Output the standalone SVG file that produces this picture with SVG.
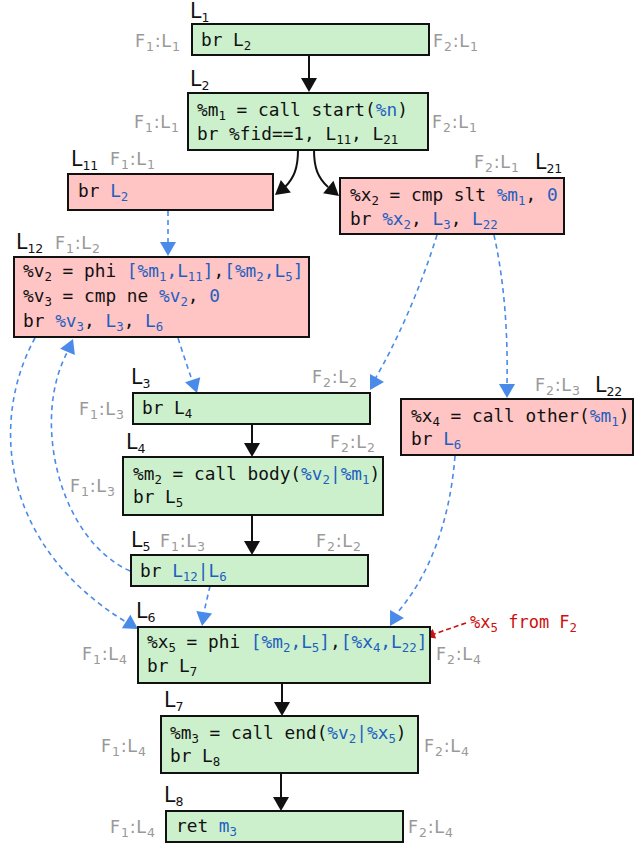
<svg xmlns="http://www.w3.org/2000/svg" xmlns:xlink="http://www.w3.org/1999/xlink" width="644" height="843" viewBox="0 0 644 843">
<style>
.g{fill:#ccf0cc;stroke:#111;stroke-width:2}
.r{fill:#ffc4c4;stroke:#111;stroke-width:2}
.c{font-family:"DejaVu Sans Mono","Liberation Mono",monospace;font-size:17.8px;fill:#111}
.b{fill:#1f5fc0}
.s{font-size:12.4px;baseline-shift:-4px}
.lb{font-family:"DejaVu Sans","Liberation Sans",sans-serif;font-size:20.5px;fill:#111}
.gr{font-family:"DejaVu Sans","Liberation Sans",sans-serif;font-size:17.5px;letter-spacing:0.8px;fill:#999}
.ls{font-size:12.5px;baseline-shift:-4px}
.gs{font-size:12.5px;baseline-shift:-4px}
.k{fill:none;stroke:#111;stroke-width:2}
.d{fill:none;stroke:#4a8ae8;stroke-width:1.6;stroke-dasharray:5 4}
.rd{fill:none;stroke:#cc1111;stroke-width:1.6;stroke-dasharray:5 3}
.red{font-family:"DejaVu Sans Mono","Liberation Mono",monospace;font-size:17px;fill:#cc1111}
</style>
<defs>
<path id="ak" d="M0,0 L-14,-8 L-14,8 Z" fill="#111"/>
<path id="ab" d="M0,0 L-14,-8 L-14,8 Z" fill="#4a8ae8"/>
<path id="ar" d="M0,0 L-10,-5 L-10,5 Z" fill="#cc1111"/>
</defs>

<g id="connectors">
<path class="k" d="M309,55 V80"/>
<use xlink:href="#ak" transform="translate(309,92) rotate(90)"/>
<path class="k" d="M298,150 C298,168 294,178 285,187"/>
<use xlink:href="#ak" transform="translate(275,195) rotate(141)"/>
<path class="k" d="M314,150 C314,168 318,178 328,187"/>
<use xlink:href="#ak" transform="translate(339,196) rotate(40)"/>
<path class="k" d="M252,424 V445"/>
<use xlink:href="#ak" transform="translate(252,457) rotate(90)"/>
<path class="k" d="M252,515 V543"/>
<use xlink:href="#ak" transform="translate(252,555) rotate(90)"/>
<path class="k" d="M282,683 V704"/>
<use xlink:href="#ak" transform="translate(282,716) rotate(90)"/>
<path class="k" d="M281,773 V799"/>
<use xlink:href="#ak" transform="translate(281,811) rotate(90)"/>

<path class="d" d="M168,211 V244"/>
<use xlink:href="#ab" transform="translate(168,256) rotate(90)"/>
<path class="d" d="M178,338 Q185,360 192,380"/>
<use xlink:href="#ab" transform="translate(197,393) rotate(72)"/>
<path class="d" d="M35,338 C-10,420 0,545 126,622"/>
<use xlink:href="#ab" transform="translate(138,629) rotate(32)"/>
<path class="d" d="M130,571 C60,540 30,420 68,351"/>
<use xlink:href="#ab" transform="translate(73,339) rotate(-67)"/>
<path class="d" d="M437,235 C420,290 395,345 375,379"/>
<use xlink:href="#ab" transform="translate(384,382) rotate(0)"/>
<path class="d" d="M494,235 C504,280 508,330 507,384"/>
<use xlink:href="#ab" transform="translate(507,398) rotate(90)"/>
<path class="d" d="M210,586 L204,612"/>
<use xlink:href="#ab" transform="translate(202,626) rotate(99)"/>
<path class="d" d="M455,456 C450,520 430,575 397,613"/>
<use xlink:href="#ab" transform="translate(390,626) rotate(120)"/>
<path class="rd" d="M466,623 L434,634"/>
<use xlink:href="#ar" transform="translate(425,637) rotate(161)"/>
</g>

<g id="L1">
<rect class="g" x="192" y="24" width="237" height="31"/>
<text class="lb" x="190" y="18">L<tspan class="ls">1</tspan></text>
<text class="gr" x="135" y="47">F<tspan class="gs">1</tspan><tspan>:L</tspan><tspan class="gs">1</tspan></text>
<text class="gr" x="433" y="47">F<tspan class="gs">2</tspan><tspan>:L</tspan><tspan class="gs">1</tspan></text>
<text class="c" x="201" y="46">br L<tspan class="s">2</tspan></text>
</g>

<g id="L2">
<rect class="g" x="188" y="93" width="240" height="57"/>
<text class="lb" x="190" y="86">L<tspan class="ls">2</tspan></text>
<text class="gr" x="134" y="128">F<tspan class="gs">1</tspan><tspan>:L</tspan><tspan class="gs">1</tspan></text>
<text class="gr" x="432" y="128">F<tspan class="gs">2</tspan><tspan>:L</tspan><tspan class="gs">1</tspan></text>
<text class="c" x="197" y="116">%m<tspan class="s">1</tspan><tspan> = call start(</tspan><tspan class="b">%n</tspan><tspan>)</tspan></text>
<text class="c" x="197" y="140">br %fid==1, L<tspan class="s">11</tspan><tspan>, L</tspan><tspan class="s">21</tspan></text>
</g>

<g id="L11">
<rect class="r" x="68" y="174" width="205" height="36"/>
<text class="lb" x="71" y="166">L<tspan class="ls">11</tspan></text>
<text class="gr" x="110" y="165">F<tspan class="gs">1</tspan><tspan>:L</tspan><tspan class="gs">1</tspan></text>
<text class="c" x="78" y="197">br <tspan class="b">L</tspan><tspan class="b s">2</tspan></text>
</g>

<g id="L21">
<rect class="r" x="340" y="178" width="224" height="56"/>
<text class="gr" x="474" y="168">F<tspan class="gs">2</tspan><tspan>:L</tspan><tspan class="gs">1</tspan></text>
<text class="lb" x="535" y="169">L<tspan class="ls">21</tspan></text>
<text class="c" x="350" y="201">%x<tspan class="s">2</tspan><tspan> = cmp slt </tspan><tspan class="b">%m</tspan><tspan class="b s">1</tspan><tspan>, </tspan><tspan class="b">0</tspan></text>
<text class="c" x="350" y="225">br <tspan class="b">%x</tspan><tspan class="b s">2</tspan><tspan>, </tspan><tspan class="b">L</tspan><tspan class="b s">3</tspan><tspan>, </tspan><tspan class="b">L</tspan><tspan class="b s">22</tspan></text>
</g>

<g id="L12">
<rect class="r" x="14" y="257" width="295" height="80"/>
<text class="lb" x="16" y="249">L<tspan class="ls">12</tspan></text>
<text class="gr" x="55" y="249">F<tspan class="gs">1</tspan><tspan>:L</tspan><tspan class="gs">2</tspan></text>
<text class="c" x="23" y="277">%v<tspan class="s">2</tspan><tspan> = phi </tspan><tspan class="b">[%m</tspan><tspan class="b s">1</tspan><tspan class="b">,L</tspan><tspan class="b s">11</tspan><tspan class="b">]</tspan><tspan>,</tspan><tspan class="b">[%m</tspan><tspan class="b s">2</tspan><tspan class="b">,L</tspan><tspan class="b s">5</tspan><tspan class="b">]</tspan></text>
<text class="c" x="23" y="302">%v<tspan class="s">3</tspan><tspan> = cmp ne </tspan><tspan class="b">%v</tspan><tspan class="b s">2</tspan><tspan>, </tspan><tspan class="b">0</tspan></text>
<text class="c" x="23" y="327">br <tspan class="b">%v</tspan><tspan class="b s">3</tspan><tspan>, </tspan><tspan class="b">L</tspan><tspan class="b s">3</tspan><tspan>, </tspan><tspan class="b">L</tspan><tspan class="b s">6</tspan></text>
</g>

<g id="L3">
<rect class="g" x="133" y="393" width="237" height="31"/>
<text class="lb" x="131" y="384">L<tspan class="ls">3</tspan></text>
<text class="gr" x="312" y="383">F<tspan class="gs">2</tspan><tspan>:L</tspan><tspan class="gs">2</tspan></text>
<text class="gr" x="79" y="415">F<tspan class="gs">1</tspan><tspan>:L</tspan><tspan class="gs">3</tspan></text>
<text class="c" x="142" y="414">br L<tspan class="s">4</tspan></text>
</g>

<g id="L4">
<rect class="g" x="123" y="457" width="260" height="58"/>
<text class="lb" x="126" y="449">L<tspan class="ls">4</tspan></text>
<text class="gr" x="330" y="448">F<tspan class="gs">2</tspan><tspan>:L</tspan><tspan class="gs">2</tspan></text>
<text class="gr" x="70" y="492">F<tspan class="gs">1</tspan><tspan>:L</tspan><tspan class="gs">3</tspan></text>
<text class="c" x="133" y="480">%m<tspan class="s">2</tspan><tspan> = call body(</tspan><tspan class="b">%v</tspan><tspan class="b s">2</tspan><tspan class="b">|%m</tspan><tspan class="b s">1</tspan><tspan>)</tspan></text>
<text class="c" x="133" y="503">br L<tspan class="s">5</tspan></text>
</g>

<g id="L5">
<rect class="g" x="131" y="555" width="237" height="31"/>
<text class="lb" x="131" y="547">L<tspan class="ls">5</tspan></text>
<text class="gr" x="160" y="547">F<tspan class="gs">1</tspan><tspan>:L</tspan><tspan class="gs">3</tspan></text>
<text class="gr" x="316" y="547">F<tspan class="gs">2</tspan><tspan>:L</tspan><tspan class="gs">2</tspan></text>
<text class="c" x="140" y="577">br <tspan class="b">L</tspan><tspan class="b s">12</tspan><tspan class="b">|L</tspan><tspan class="b s">6</tspan></text>
</g>

<g id="L22">
<rect class="r" x="401" y="399" width="232" height="56"/>
<text class="gr" x="535" y="391">F<tspan class="gs">2</tspan><tspan>:L</tspan><tspan class="gs">3</tspan></text>
<text class="lb" x="595" y="392">L<tspan class="ls">22</tspan></text>
<text class="c" x="411" y="422">%x<tspan class="s">4</tspan><tspan> = call other(</tspan><tspan class="b">%m</tspan><tspan class="b s">1</tspan><tspan>)</tspan></text>
<text class="c" x="411" y="445">br <tspan class="b">L</tspan><tspan class="b s">6</tspan></text>
</g>

<g id="L6">
<rect class="g" x="138" y="627" width="292" height="56"/>
<text class="lb" x="136" y="618">L<tspan class="ls">6</tspan></text>
<text class="gr" x="82" y="660">F<tspan class="gs">1</tspan><tspan>:L</tspan><tspan class="gs">4</tspan></text>
<text class="gr" x="436" y="660">F<tspan class="gs">2</tspan><tspan>:L</tspan><tspan class="gs">4</tspan></text>
<text class="c" x="147" y="648">%x<tspan class="s">5</tspan><tspan> = phi </tspan><tspan class="b">[%m</tspan><tspan class="b s">2</tspan><tspan class="b">,L</tspan><tspan class="b s">5</tspan><tspan class="b">]</tspan><tspan>,</tspan><tspan class="b">[%x</tspan><tspan class="b s">4</tspan><tspan class="b">,L</tspan><tspan class="b s">22</tspan><tspan class="b">]</tspan></text>
<text class="c" x="147" y="672">br L<tspan class="s">7</tspan></text>
<text class="red" x="470" y="628">%x<tspan class="s">5</tspan><tspan> from F</tspan><tspan class="s">2</tspan></text>
</g>

<g id="L7">
<rect class="g" x="161" y="716" width="257" height="57"/>
<text class="lb" x="164" y="707">L<tspan class="ls">7</tspan></text>
<text class="gr" x="101" y="752">F<tspan class="gs">1</tspan><tspan>:L</tspan><tspan class="gs">4</tspan></text>
<text class="gr" x="424" y="752">F<tspan class="gs">2</tspan><tspan>:L</tspan><tspan class="gs">4</tspan></text>
<text class="c" x="170" y="739">%m<tspan class="s">3</tspan><tspan> = call end(</tspan><tspan class="b">%v</tspan><tspan class="b s">2</tspan><tspan class="b">|%x</tspan><tspan class="b s">5</tspan><tspan>)</tspan></text>
<text class="c" x="170" y="762">br L<tspan class="s">8</tspan></text>
</g>

<g id="L8">
<rect class="g" x="166" y="811" width="237" height="31"/>
<text class="lb" x="164" y="802">L<tspan class="ls">8</tspan></text>
<text class="gr" x="110" y="833">F<tspan class="gs">1</tspan><tspan>:L</tspan><tspan class="gs">4</tspan></text>
<text class="gr" x="408" y="833">F<tspan class="gs">2</tspan><tspan>:L</tspan><tspan class="gs">4</tspan></text>
<text class="c" x="176" y="832">ret <tspan class="b">m</tspan><tspan class="b s">3</tspan></text>
</g>
</svg>
